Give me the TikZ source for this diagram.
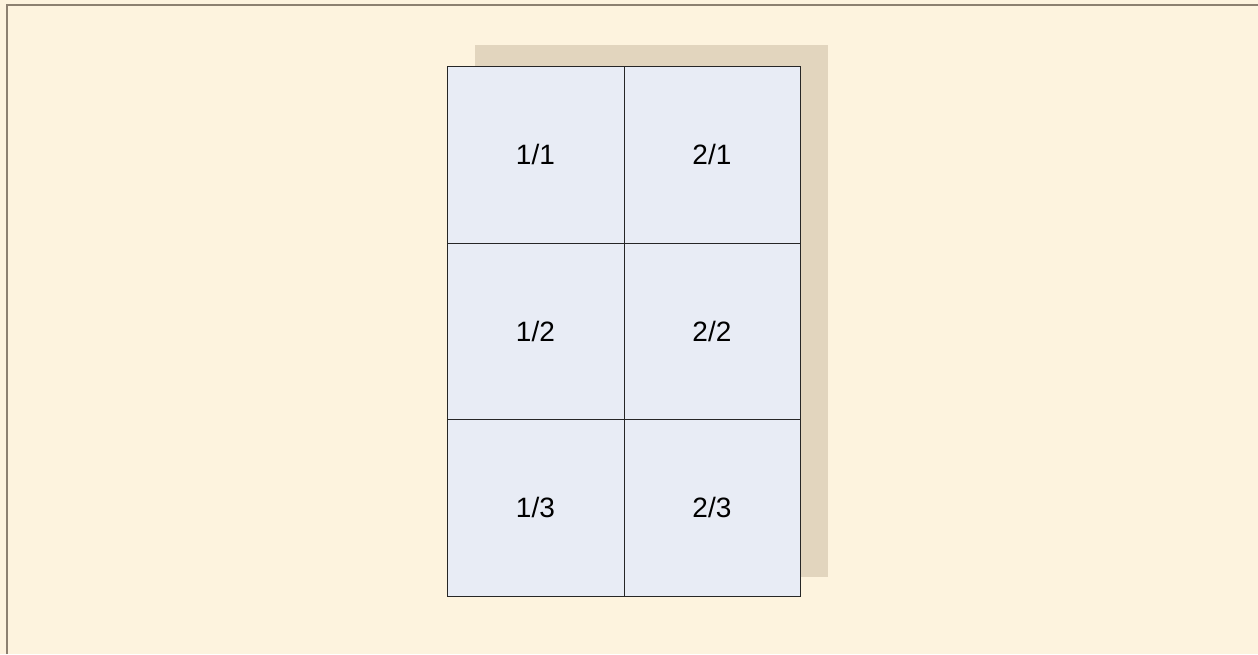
\documentclass[tikz,border=0pt]{standalone}
\usepackage{fontspec}
\setmainfont{Liberation Sans}
\definecolor{paper}{HTML}{FDF3DE}
\definecolor{shadowtan}{HTML}{E2D5BE}
\definecolor{cellfill}{HTML}{E8ECF5}
\definecolor{frame}{HTML}{8C8070}
\begin{document}
\begin{tikzpicture}[x=1pt,y=-1pt,font=\fontsize{28}{32}\selectfont,
  cell/.style={draw=black!85,fill=cellfill,minimum width=176.5pt,minimum height=176.5pt,inner sep=0pt,anchor=north west}]
\useasboundingbox (0,0) rectangle (1258,654);
\fill[paper] (0,0) rectangle (1258,654);
\draw[frame,line width=2pt] (7,654)--(7,5)--(1258,5);
\fill[shadowtan] (475,45) rectangle (828,577);
\foreach \c in {1,2} \foreach \r in {1,2,3}
  \node[cell,text depth=-6pt] (c\c\r) at ({447+(\c-1)*176.5},{66+(\r-1)*176.5}) {\c/\r};
\end{tikzpicture}
\end{document}
